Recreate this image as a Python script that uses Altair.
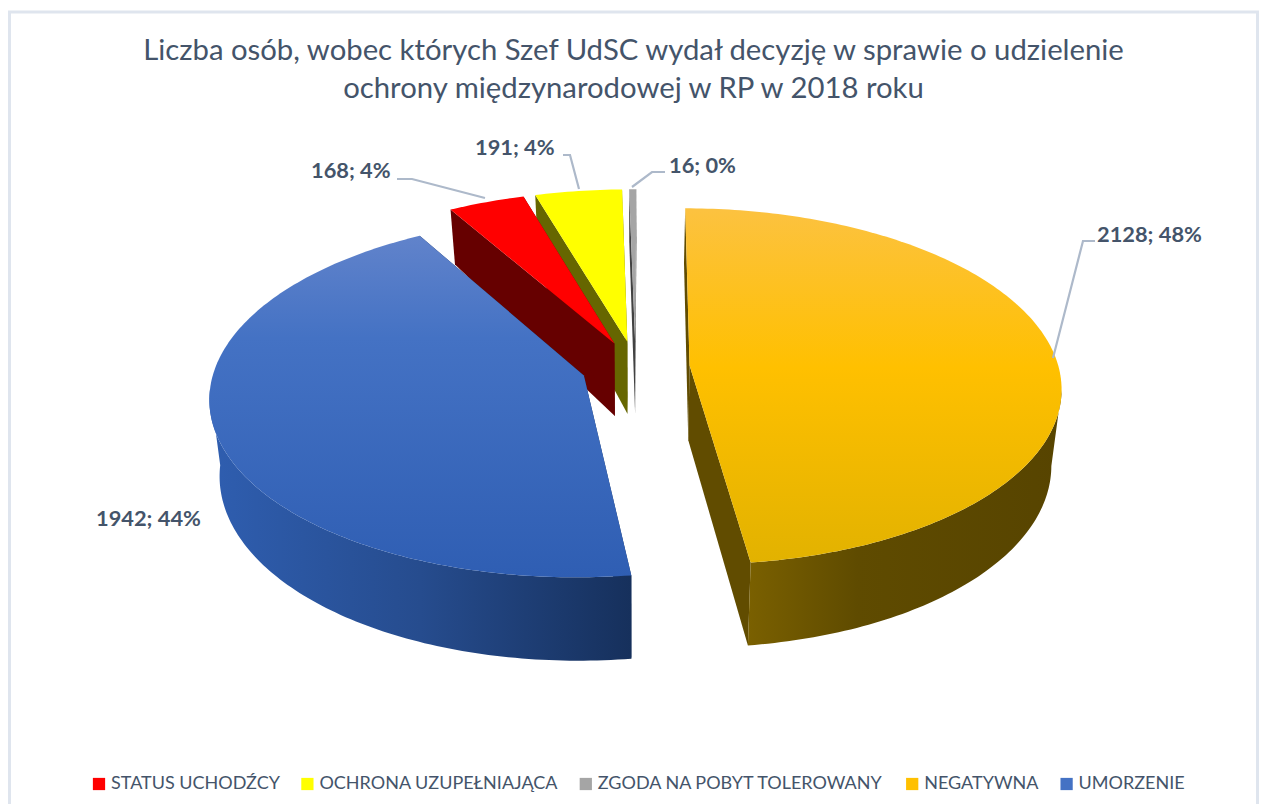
import math
import altair as alt
import pandas as pd

# --- data
pie_names = ["NEGATYWNA", "UMORZENIE", "STATUS UCHODŹCY", "OCHRONA UZUPEŁNIAJĄCA", "ZGODA NA POBYT TOLEROWANY"]
pie_values = [2128, 1942, 168, 191, 16]
legend_order = ["STATUS UCHODŹCY", "OCHRONA UZUPEŁNIAJĄCA", "ZGODA NA POBYT TOLEROWANY", "NEGATYWNA", "UMORZENIE"]
legend_colors = ["#ff0000", "#ffff00", "#a5a5a5", "#ffc000", "#4472c4"]
label_texts = ["2128; 48%", "1942; 44%", "168; 4%", "191; 4%", "16; 0%"]
label_x = [1097, 96, 311, 475, 669]
label_y = [235, 519, 171, 148, 166]
leader_x = [[1053, 1083, 1095], [], [485, 412, 397], [579, 570, 563], [632, 652, 665]]
leader_y = [[358, 241, 241], [], [198, 179, 179], [189, 155, 155], [187, 172, 172]]
title_lines = ["Liczba osób, wobec których Szef UdSC wydał decyzję w sprawie o udzielenie",
               "ochrony międzynarodowej w RP w 2018 roku"]

INK = "#44546a"
FONT = "Lato"
# projection of the tilted disc
CX, CY, A, B, K, EXPL, ROT = 635.5, 367.0, 369.0, 176.0, 0.118, 0.147, 0.004
SHRINK = 0.976


def grad(direction, stops):
    x2, y2 = (1, 0) if direction == "h" else (0, 1)
    return {"gradient": "linear", "x1": 0, "y1": 0, "x2": x2, "y2": y2,
            "stops": [{"offset": o, "color": c} for o, c in stops]}


styles = {
    "NEGATYWNA": dict(top=grad("v", [(0, "#fcc240"), (0.45, "#ffc000"), (1, "#e2b200")]),
                      wall=grad("h", [(0, "#7a6000"), (0.35, "#5f4b00"), (1, "#574400")]), cut="#614c00"),
    "UMORZENIE": dict(top=grad("v", [(0, "#6183cb"), (0.3, "#4472c4"), (1, "#2f5eb3")]),
                      wall=grad("h", [(0, "#2f5eb0"), (0.5, "#264c8e"), (1, "#16305c")]), cut="#16305c"),
    "STATUS UCHODŹCY": dict(top="#ff0000", wall="#660000", cut="#660000"),
    "OCHRONA UZUPEŁNIAJĄCA": dict(top="#ffff00", wall="#666600", cut="#666600"),
    "ZGODA NA POBYT TOLEROWANY": dict(top="#a5a5a5", wall="#424242", cut="#424242"),
}


def top_point(X, Z):
    s = 1 / (1 + K * Z)
    return CX + A * X * s, CY - B * Z * s


def bottom_point(X, Z):
    x, y = top_point(X, Z)
    depth = 75 - (20 * Z if Z > 0 else 8 * Z)
    return CX + (x - CX) * SHRINK, y + depth


def poly(points):
    return pd.DataFrame({"x": [p[0] for p in points], "y": [p[1] for p in points], "i": range(len(points))})


X_ENC = alt.X("x:Q", axis=None, scale=alt.Scale(domain=[8, 1259], nice=False, zero=False))
Y_ENC = alt.Y("y:Q", axis=None, scale=alt.Scale(domain=[804, 108], nice=False, zero=False))


def shape(points, fill):
    return alt.Chart(poly(points)).mark_line(fill=fill, stroke="transparent", strokeWidth=0, clip=False).encode(
        x=X_ENC, y=Y_ENC, order=alt.Order("i:Q"))


total = sum(pie_values)
geom = {}
start = ROT
for name, value in zip(pie_names, pie_values):
    end = start + value / total * 2 * math.pi
    mid = (start + end) / 2
    geom[name] = (start, end, EXPL * math.sin(mid), EXPL * math.cos(mid), mid)
    start = end

# legend-carrying squares, hidden beneath the slices
centres = []
for name in pie_names:
    s, e, ox, oz, mid = geom[name]
    px, py = top_point(ox + 0.5 * math.sin(mid), oz + 0.5 * math.cos(mid))
    centres.append({"x": px, "y": py, "name": name})
legend_layer = alt.Chart(pd.DataFrame(centres)).mark_square(size=4, opacity=1).encode(
    x=X_ENC, y=Y_ENC,
    color=alt.Color("name:N", scale=alt.Scale(domain=legend_order, range=legend_colors), legend=alt.Legend(
        title=None, orient="none", legendX=82, legendY=667, direction="horizontal", columns=5,
        symbolType="square", symbolSize=150, symbolOpacity=1, symbolStrokeWidth=0, labelFont=FONT, labelFontSize=18,
        labelColor=INK, labelOffset=3, columnPadding=18.4, labelLimit=400, gridAlign="each")))

layers = [legend_layer]
for name in ["OCHRONA UZUPEŁNIAJĄCA", "ZGODA NA POBYT TOLEROWANY", "STATUS UCHODŹCY", "NEGATYWNA", "UMORZENIE"]:
    s, e, ox, oz, mid = geom[name]
    st = styles[name]
    n = max(8, int((e - s) * 60))
    angles = [s + (e - s) * j / n for j in range(n + 1)]
    rim = [(ox + math.sin(t), oz + math.cos(t)) for t in angles]
    apex = (ox, oz)
    for edge in (rim[0], rim[-1]):
        layers.append(shape([top_point(*apex), top_point(*edge), bottom_point(*edge), bottom_point(*apex)], st["cut"]))
    # the outer wall shows only from the silhouette point forward
    front = [p for p in rim if p[1] < -K]
    if len(front) > 1:
        layers.append(shape([top_point(*p) for p in front] + [bottom_point(*p) for p in reversed(front)], st["wall"]))
    layers.append(shape([top_point(*apex)] + [top_point(*p) for p in rim], st["top"]))

# leaders and labels
for lx, ly in zip(leader_x, leader_y):
    if lx:
        layers.append(alt.Chart(poly(list(zip(lx, ly)))).mark_line(color="#adb9ca", strokeWidth=2.2, clip=False).encode(
            x=X_ENC, y=Y_ENC, order=alt.Order("i:Q")))
layers.append(alt.Chart(pd.DataFrame({"x": label_x, "y": label_y, "t": label_texts})).mark_text(
    align="left", baseline="middle", font=FONT, fontSize=21.8, fontWeight="bold", color=INK, clip=False).encode(
    x=X_ENC, y=Y_ENC, text="t:N"))

# frame of the chart area
frame_x = [9.5, 9.5, 1257.5, 1257.5]
frame_y = [804, 12, 12, 804]
layers.append(alt.Chart(poly(list(zip(frame_x, frame_y)))).mark_line(color="#dfe5ee", strokeWidth=3, clip=False).encode(
    x=X_ENC, y=Y_ENC, order=alt.Order("i:Q")))

chart = alt.layer(*layers).properties(
    width=1251, height=696,
    title=alt.TitleParams(text=title_lines, font=FONT, fontSize=29.3, fontWeight="normal", color=INK,
                          anchor="middle", lineHeight=38, offset=8, dy=106),
    autosize=alt.AutoSizeParams(type="none"),
    padding={"left": 0, "top": 100, "right": 0, "bottom": 0},
    background="white",
).configure_view(stroke=None)

chart.save("out.html", embed_options={"renderer": "svg", "actions": False})
